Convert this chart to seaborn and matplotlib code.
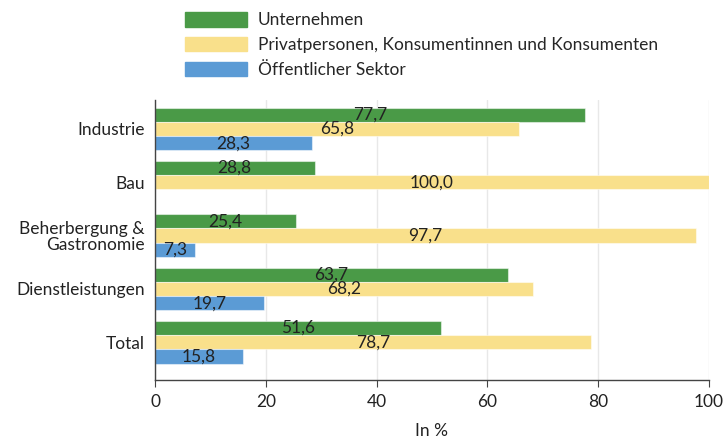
import numpy as np
import pandas as pd
import seaborn as sns
import matplotlib.pyplot as plt

# values (in %)
categories = ["Industrie", "Bau", "Beherbergung &\nGastronomie", "Dienstleistungen", "Total"]
series = ["Unternehmen", "Privatpersonen, Konsumentinnen und Konsumenten", "Öffentlicher Sektor"]
unternehmen = [77.7, 28.8, 25.4, 63.7, 51.6]
privat = [65.8, 100.0, 97.7, 68.2, 78.7]
oeffentlich = [28.3, np.nan, 7.3, 19.7, 15.8]
colors = ["#4a9a47", "#f9e08b", "#5b9bd5"]

df = pd.DataFrame({
    "Bereich": categories * 3,
    "Gruppe": [series[0]] * 5 + [series[1]] * 5 + [series[2]] * 5,
    "Wert": unternehmen + privat + oeffentlich,
})

sns.set_style("white")
plt.rcParams["font.family"] = ["Lato", "DejaVu Sans"]

fig = plt.figure(figsize=(7.26, 4.41), dpi=100)
ax = fig.add_axes([0.2135, 0.138, 0.763, 0.635])

sns.barplot(data=df, y="Bereich", x="Wert", hue="Gruppe", order=categories,
            hue_order=series, palette=colors, saturation=1, orient="h", width=0.8,
            edgecolor=(1, 1, 1, 0.5), linewidth=0.8, legend=False, ax=ax)

for cont in ax.containers:
    labels = ["" if np.isnan(b.get_width()) else f"{b.get_width():.1f}".replace(".", ",")
              for b in cont]
    ax.bar_label(cont, labels=labels, label_type="center", fontsize=12.5, color="#222222")

ax.set_xlim(0, 100)
ax.set_ylim(4.71, -0.54)
ax.set_xticks([0, 20, 40, 60, 80, 100])
ax.xaxis.grid(True, color="#e8e8e8", linewidth=1)
ax.set_axisbelow(True)
ax.tick_params(axis="x", bottom=True, length=5, color="#444444", labelsize=12.5, labelcolor="#222222", pad=5)
ax.tick_params(axis="y", left=False, labelsize=12.5, labelcolor="#222222", pad=4)
for lbl in ax.get_yticklabels():
    lbl.set_horizontalalignment("right")
    lbl.set_multialignment("right")
    lbl.set_linespacing(1.0)
ax.set_ylabel("")
ax.set_xlabel("In %", fontsize=12.5, color="#222222", labelpad=9)
for s in ["top", "right"]:
    ax.spines[s].set_visible(False)
for s in ["left", "bottom"]:
    ax.spines[s].set_color("#444444")
    ax.spines[s].set_linewidth(1)

handles = [plt.Rectangle((0, 0), 1, 1, color=c) for c in colors]
fig.legend(handles, series, loc="upper left", bbox_to_anchor=(0.238, 1.0),
           frameon=False, fontsize=12.5, handlelength=3.6, handleheight=0.9,
           labelspacing=0.5, handletextpad=0.6, borderpad=0.2)

fig.savefig("out.png", dpi=100)
